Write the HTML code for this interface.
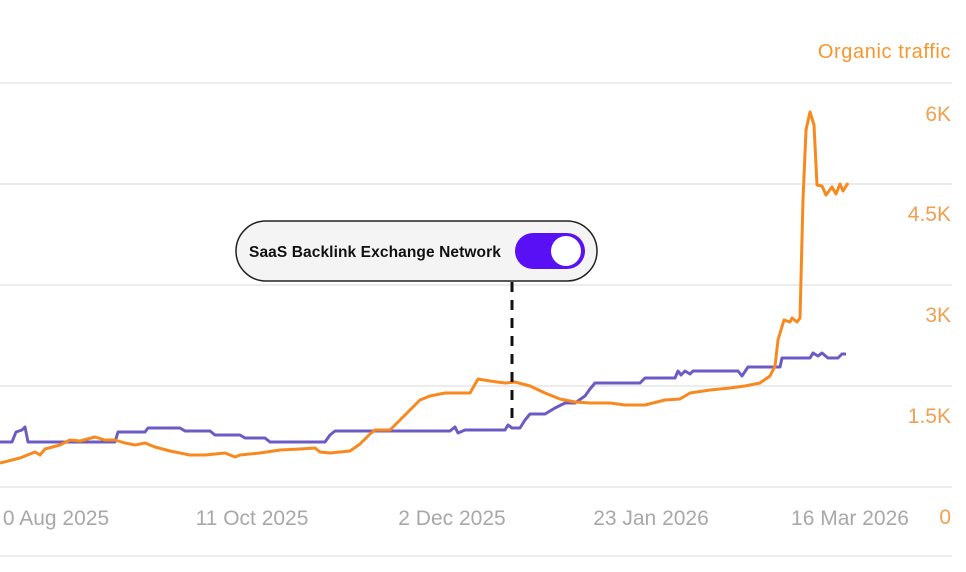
<!DOCTYPE html>
<html><head><meta charset="utf-8"><style>
html,body{margin:0;padding:0;background:#fff;}
svg{display:block;font-family:"Liberation Sans",sans-serif;}
</style></head><body>
<svg width="966" height="572" viewBox="0 0 966 572">
<g stroke="#ececec" stroke-width="2">
<line x1="0" y1="83" x2="952" y2="83"/>
<line x1="0" y1="184" x2="952" y2="184"/>
<line x1="0" y1="285" x2="952" y2="285"/>
<line x1="0" y1="386" x2="952" y2="386"/>
<line x1="0" y1="487" x2="952" y2="487"/>
<line x1="0" y1="556" x2="952" y2="556"/>
</g>
<text x="951" y="58" text-anchor="end" fill="#f7962c" font-size="20" letter-spacing="0.6">Organic traffic</text>
<g fill="#f0a050" font-size="21" text-anchor="end">
<text x="951" y="121">6K</text>
<text x="951" y="221">4.5K</text>
<text x="951" y="322">3K</text>
<text x="951" y="423">1.5K</text>
<text x="951" y="524">0</text>
</g>
<g fill="#a8a8a8" font-size="21" text-anchor="middle">
<text x="56" y="525">0 Aug 2025</text>
<text x="252" y="525">11 Oct 2025</text>
<text x="452" y="525">2 Dec 2025</text>
<text x="651" y="525">23 Jan 2026</text>
<text x="850" y="525">16 Mar 2026</text>
</g>
<polyline fill="none" stroke="#6d5bc4" stroke-width="3" stroke-linejoin="round" points="0,442 12,442 16,432 22,430 25,427 28,442 115,442 118,432 145,432 148,428 180,428 185,431 210,431 215,435 240,435 245,438 265,438 270,442 325,442 330,435 335,431 450,431 455,427 458,433 465,430 505,430 508,425 512,428 520,428 525,420 530,414 545,414 555,408 565,403 575,403 585,396 590,389 595,383 640,383 645,378 675,378 678,371 681,375 685,371 690,374 693,371 738,371 742,376 748,367 780,367 782,358 810,358 813,353 818,356 822,353 828,358 838,358 842,354 846,354"/>
<polyline fill="none" stroke="#f7891e" stroke-width="3" stroke-linejoin="round" points="0,463 20,458 35,452 40,455 45,449 60,445 70,440 80,441 95,437 105,440 115,440 125,443 135,445 145,443 155,447 170,451 190,455 205,455 225,453 235,457 240,455 260,453 280,450 300,449 315,448 320,452 330,453 350,451 360,444 370,434 375,430 390,430 398,422 405,415 412,408 420,400 430,396 445,393 470,393 474,386 478,379 490,381 505,383 515,382 530,386 545,393 560,399 575,402 590,403 610,403 625,405 645,405 665,400 680,399 690,393 710,390 730,388 745,386 760,383 770,376 775,366 778,340 784,320 790,322 792,318 797,322 800,318 803,200 806,130 810,112 814,125 817,185 822,186 826,195 832,187 836,194 840,184 843,191 848,183"/>
<line x1="512" y1="282" x2="512" y2="426" stroke="#111" stroke-width="3" stroke-dasharray="10,8"/>
<rect x="236" y="221" width="361" height="60" rx="30" fill="#f4f4f4" stroke="#222" stroke-width="1.5"/>
<text x="249" y="257" font-size="15.5" font-weight="bold" fill="#111" letter-spacing="0.1">SaaS Backlink Exchange Network</text>
<rect x="515" y="233" width="70" height="36" rx="18" fill="#5a10f5"/>
<circle cx="566" cy="251" r="15" fill="#fff"/>
</svg>
</body></html>
